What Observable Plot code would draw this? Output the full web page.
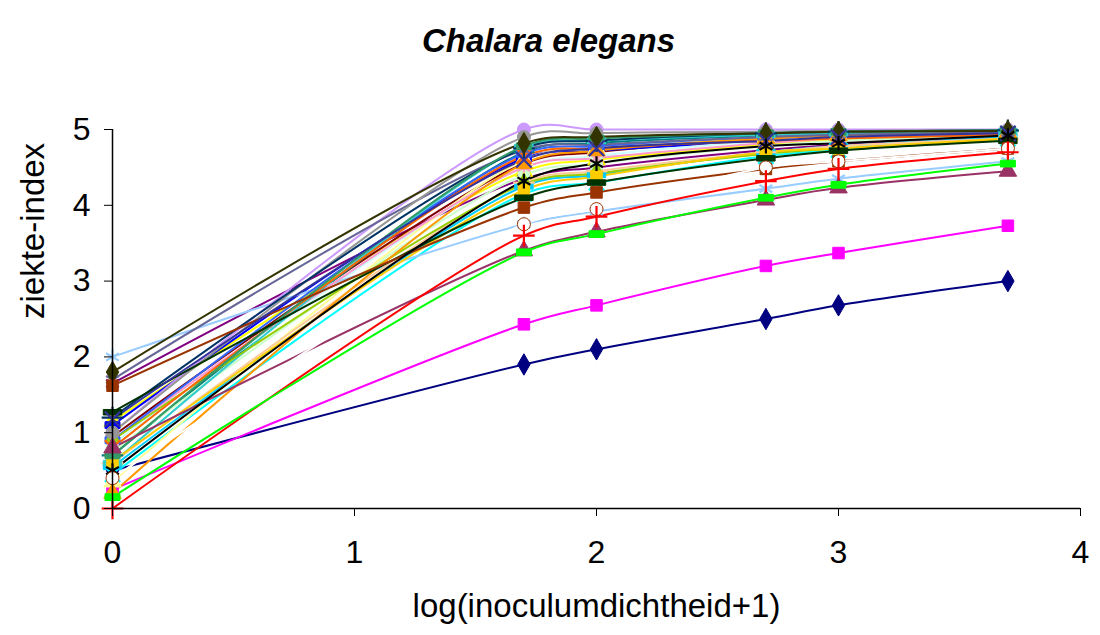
<!DOCTYPE html>
<html>
<head>
<meta charset="utf-8">
<script src="https://cdn.jsdelivr.net/npm/d3@7"></script>
<script src="https://cdn.jsdelivr.net/npm/@observablehq/plot@0.6"></script>
<style>
  html, body { margin: 0; padding: 0; background: #fff; }
  #chart svg { display: block; }
</style>
</head>
<body>
<div id="chart"></div>
<script>
const title = "Chalara elegans";
const xLabel = "log(inoculumdichtheid+1)";
const yLabel = "ziekte-index";
const xTicks = [0, 1, 2, 3, 4];
const yTicks = [0, 1, 2, 3, 4, 5];

// x positions of the measurements: log(density + 1)
const xValues = [0, 1.7, 2, 2.7, 3, 3.7];

// disease index per series (one row per series)
const seriesValues = [
  [0.50, 1.90, 2.10, 2.50, 2.68, 3.00],
  [0.25, 2.43, 2.68, 3.20, 3.37, 3.73],
  [1.15, 4.45, 4.60, 4.80, 4.87, 4.93],
  [0.45, 4.15, 4.30, 4.65, 4.73, 4.88],
  [1.65, 4.35, 4.50, 4.73, 4.80, 4.90],
  [0.95, 4.55, 4.70, 4.88, 4.92, 4.97],
  [0.70, 4.70, 4.82, 4.92, 4.95, 4.98],
  [1.10, 4.62, 4.72, 4.85, 4.90, 4.95],
  [0.55, 4.25, 4.40, 4.70, 4.78, 4.90],
  [0.85, 4.50, 4.65, 4.85, 4.90, 4.95],
  [0.75, 4.40, 4.55, 4.78, 4.85, 4.92],
  [0.35, 4.60, 4.75, 4.90, 4.93, 4.97],
  [2.00, 3.75, 3.92, 4.22, 4.35, 4.58],
  [0.90, 4.50, 4.62, 4.82, 4.88, 4.95],
  [1.00, 5.00, 5.00, 5.00, 5.00, 5.00],
  [0.60, 4.30, 4.45, 4.70, 4.78, 4.88],
  [0.90, 4.68, 4.78, 4.90, 4.93, 4.97],
  [0.60, 4.77, 4.85, 4.93, 4.95, 4.98],
  [0.90, 4.28, 4.42, 4.68, 4.75, 4.87],
  [0.62, 4.20, 4.38, 4.70, 4.75, 4.88],
  [0.20, 4.55, 4.72, 4.88, 4.92, 4.96],
  [0.80, 4.65, 4.75, 4.85, 4.88, 4.93],
  [1.70, 4.73, 4.80, 4.90, 4.93, 4.96],
  [1.00, 4.90, 4.95, 4.97, 4.98, 4.99],
  [1.20, 4.75, 4.85, 4.95, 4.97, 4.99],
  [0.70, 4.78, 4.88, 4.95, 4.97, 4.99],
  [1.27, 4.10, 4.30, 4.62, 4.72, 4.85],
  [1.80, 4.82, 4.90, 4.95, 4.97, 4.98],
  [1.62, 3.97, 4.17, 4.48, 4.58, 4.75],
  [0.80, 3.40, 3.65, 4.07, 4.23, 4.45],
  [1.18, 4.60, 4.75, 4.85, 4.90, 4.95],
  [0.50, 4.32, 4.55, 4.78, 4.82, 4.92],
  [0.40, 3.75, 3.95, 4.50, 4.58, 4.75],
  [0.00, 3.60, 3.85, 4.32, 4.48, 4.70],
  [0.15, 3.38, 3.62, 4.10, 4.27, 4.55]
];

const seriesColors = [
  "#000080", "#FF00FF", "#FFFF00", "#00FFFF", "#800080", "#800000", "#008080",
  "#0000FF", "#00CCFF", "#CCFFFF", "#CCFFCC", "#FFFF99", "#99CCFF", "#FF99CC",
  "#CC99FF", "#FFCC99", "#3366FF", "#33CCCC", "#99CC00", "#FFCC00", "#FF9900",
  "#FF6600", "#666699", "#969696", "#003366", "#339966", "#003300", "#333300",
  "#993300", "#993366", "#333399", "#000000", "#FFFFFF", "#FF0000", "#00FF00"
];

const seriesMarkers = [
  "diamond", "square", "triangle", "times", "asterisk", "circle", "plus",
  "dash", "bar", "diamond", "square", "triangle", "asterisk", "asterisk",
  "circle", "plus", "dash", "bar", "diamond", "square", "triangle",
  "times", "asterisk", "circle", "plus", "dash", "bar", "diamond",
  "square", "triangle", "times", "asterisk", "circle", "plus", "dash"
];

// custom marker shapes
const dashSymbol = {draw(ctx, size) { const w = Math.sqrt(size) * 1.3, h = w * 0.45; ctx.rect(-w / 2, -h / 2, w, h); }};
const barSymbol = {draw(ctx, size) { const w = Math.sqrt(size) * 1.6, h = w * 0.3; ctx.rect(-w / 2, -h / 2, w, h); }};
const strokeMarkers = new Set(["times", "asterisk", "plus"]);
function symbolOf(m) {
  if (m === "dash") return dashSymbol;
  if (m === "bar") return barSymbol;
  return m;
}

const rows = [];
seriesValues.forEach((vals, i) => {
  vals.forEach((v, j) => rows.push({series: i, x: xValues[j], y: v}));
});

const lineMarks = seriesValues.map((_, i) =>
  Plot.line(rows.filter(d => d.series === i), {
    x: "x", y: "y", stroke: seriesColors[i], strokeWidth: 2, curve: "catmull-rom"
  })
);
const dotMarks = seriesValues.map((_, i) => {
  const m = seriesMarkers[i];
  const data = rows.filter(d => d.series === i);
  if (strokeMarkers.has(m)) {
    return Plot.dot(data, {x: "x", y: "y", symbol: symbolOf(m), r: 7, stroke: seriesColors[i], strokeWidth: 2.2, fill: "none"});
  }
  const outline = seriesColors[i] === "#FFFFFF" ? "#993300" : seriesColors[i];
  return Plot.dot(data, {x: "x", y: "y", symbol: symbolOf(m), r: 6.5, fill: seriesColors[i], stroke: outline, strokeWidth: 1});
});

const fontFamily = "Arial, 'Liberation Sans', sans-serif";

const chart = Plot.plot({
  width: 1100,
  height: 635,
  marginLeft: 112,
  marginRight: 20,
  marginTop: 129,
  marginBottom: 127,
  style: {fontFamily, background: "#fff", overflow: "visible"},
  x: {domain: [0, 4]},
  y: {domain: [0, 5]},
  marks: [
    ...lineMarks,
    ...dotMarks,
    Plot.ruleX([0], {stroke: "#000", strokeWidth: 1.5}),
    Plot.ruleY([0], {stroke: "#000", strokeWidth: 1.5}),
    Plot.axisX({ticks: xTicks, tickSize: 8, tickPadding: 24, fontSize: 32, label: null, tickFormat: d => String(d), stroke: "#000", fill: "#000"}),
    Plot.axisY({ticks: yTicks, tickSize: 8, tickPadding: 14, fontSize: 32, label: null, tickFormat: d => String(d), stroke: "#000", fill: "#000"}),
    Plot.text([title], {frameAnchor: "top", dx: -48, dy: -101, fontSize: 33, fontWeight: "bold", fontStyle: "italic", fill: "#000"}),
    Plot.text([xLabel], {frameAnchor: "bottom", dy: 108, fontSize: 33, fill: "#000"}),
    Plot.text([yLabel], {frameAnchor: "left", dx: -79, rotate: -90, fontSize: 33, fill: "#000"})
  ]
});
document.getElementById("chart").appendChild(chart);
</script>
</body>
</html>
